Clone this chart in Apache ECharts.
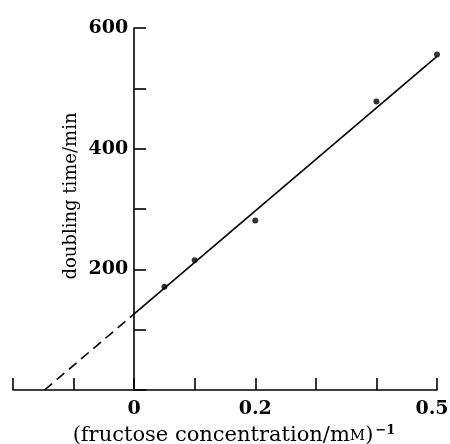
<!DOCTYPE html>
<html><head><meta charset="utf-8">
<script src="https://cdn.jsdelivr.net/npm/echarts@6/dist/echarts.min.js"></script>
<style>html,body{margin:0;padding:0;background:#fff}#c{width:450px;height:444px}</style>
</head><body><div id="c"></div>
<script>
const pointX = [0.05, 0.1, 0.2, 0.4, 0.5];
const pointY = [171, 215, 281, 478, 556];
const fitSolidX = [0, 0.5];
const fitSolidY = [126, 553];
const fitDashX = [-0.148, 0];
const fitDashY = [0, 126];
const xLabels = ['0', '0.2', '0.5'];
const yLabels = ['200', '400', '600'];

const serif = '"DejaVu Serif", "Liberation Serif", serif';
const zip = (a, b) => a.map((v, i) => [v, b[i]]);
const W = 450, L = 13, R = 13, T = 28, B = 54;
const xMin = -0.2, xMax = 0.5;
const yAxisLeft = L + (W - L - R) * (0 - xMin) / (xMax - xMin);

const chart = echarts.init(document.getElementById('c'), null, {renderer: 'canvas'});
const axisLineStyle = {color: '#000', width: 1.6};
chart.setOption({
  animation: false,
  backgroundColor: '#fff',
  grid: [
    {left: L, right: R, top: T, bottom: B, containLabel: false, outerBoundsMode: 'none'},
    {left: yAxisLeft, width: 1, top: T, bottom: B, containLabel: false, outerBoundsMode: 'none'}
  ],
  xAxis: [{
    gridIndex: 0, type: 'value', min: xMin, max: xMax, interval: 0.1,
    splitLine: {show: false},
    axisLine: {onZero: false, lineStyle: axisLineStyle},
    axisTick: {inside: true, length: 12, lineStyle: axisLineStyle},
    axisLabel: {
      margin: 10, color: '#000', fontFamily: serif, fontWeight: 'bold', fontSize: 19,
      showMinLabel: true, showMaxLabel: true,
      formatter: v => {
        const s = String(Math.round(v * 10) / 10);
        if (!xLabels.includes(s)) return '';
        return s === '0.5' ? '{m|' + s + '}' : s;
      },
      rich: {m: {fontFamily: serif, fontWeight: 'bold', fontSize: 19, color: '#000', padding: [0, 10, 0, 0]}}
    },
    name: '(fructose concentration/m{sc|M}){sup|−1}',
    nameLocation: 'middle', nameGap: 30,
    nameTextStyle: {
      color: '#000', fontFamily: serif, fontSize: 21, padding: [0, 0, 0, 18],
      rich: {
        sc: {fontFamily: serif, fontSize: 15, color: '#000'},
        sup: {fontFamily: serif, fontSize: 13, fontWeight: 'bold', color: '#000', verticalAlign: 'top', padding: [0, 0, 11, 2]}
      }
    }
  }, {
    gridIndex: 1, type: 'value', min: 0, max: 1, show: false
  }],
  yAxis: [{
    gridIndex: 0, type: 'value', min: 0, max: 600, show: false
  }, {
    gridIndex: 1, type: 'value', min: 0, max: 600, interval: 100,
    splitLine: {show: false},
    axisLine: {show: true, onZero: false, lineStyle: axisLineStyle},
    axisTick: {show: true, inside: true, length: 12, lineStyle: axisLineStyle},
    axisLabel: {
      margin: 6, color: '#000', fontFamily: serif, fontWeight: 'bold', fontSize: 19,
      showMinLabel: true, showMaxLabel: true,
      formatter: v => { const s = String(Math.round(v)); return yLabels.includes(s) ? s : ''; }
    },
    name: 'doubling time/min', nameLocation: 'middle', nameRotate: 90, nameGap: 54,
    nameTextStyle: {color: '#000', fontFamily: serif, fontSize: 18, padding: [0, 0, 0, 26]}
  }],
  series: [
    {type: 'line', xAxisIndex: 0, yAxisIndex: 0, data: zip(fitSolidX, fitSolidY), symbol: 'none', lineStyle: {color: '#000', width: 1.6}, z: 2},
    {type: 'line', xAxisIndex: 0, yAxisIndex: 0, data: zip(fitDashX, fitDashY), symbol: 'none', lineStyle: {color: '#000', width: 1.6, type: [10, 6]}, z: 2},
    {type: 'scatter', xAxisIndex: 0, yAxisIndex: 0, data: zip(pointX, pointY), symbol: 'circle', symbolSize: 6, itemStyle: {color: '#000'}, z: 3}
  ]
});
</script></body></html>
